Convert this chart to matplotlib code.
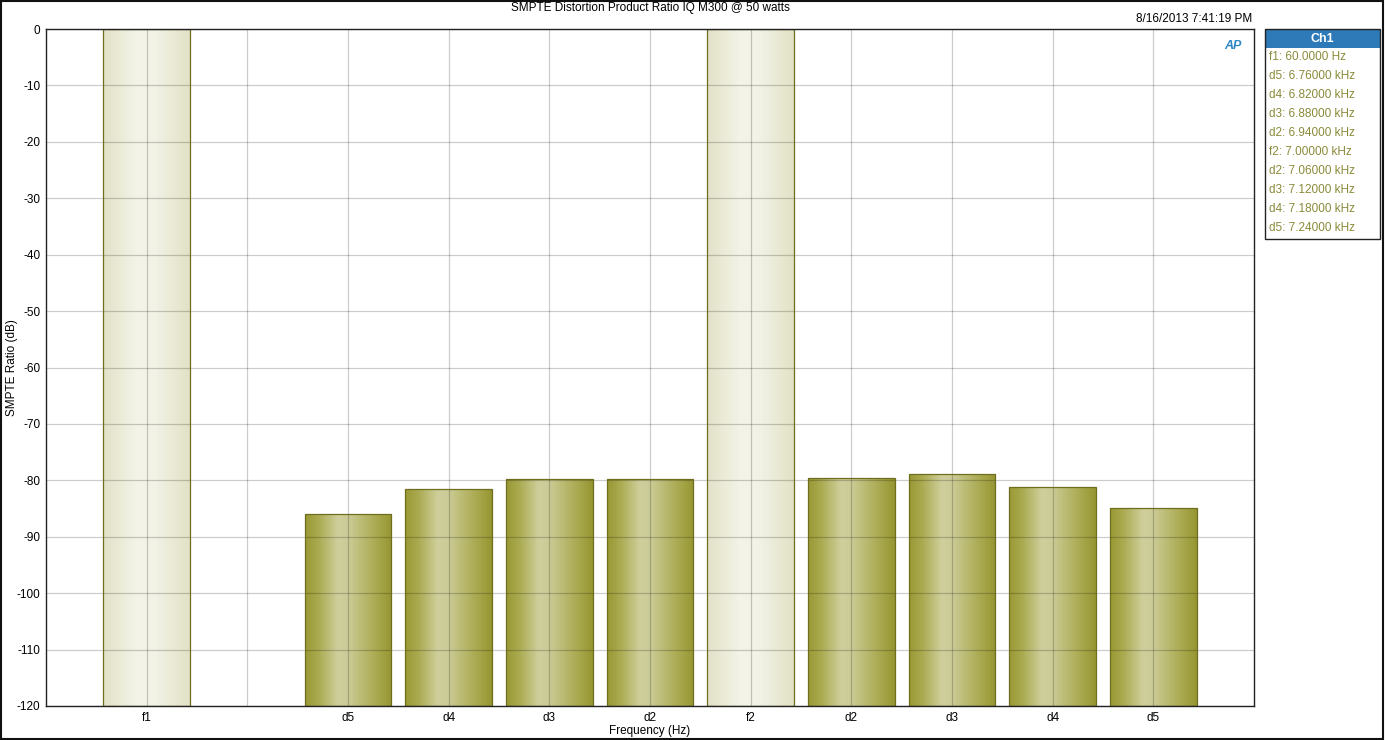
import numpy as np
import matplotlib
matplotlib.use("Agg")
import matplotlib.pyplot as plt
from matplotlib.colors import LinearSegmentedColormap
from matplotlib.patches import Rectangle

# ---- data ----
labels = ["f1", "", "d5", "d4", "d3", "d2", "f2", "d2", "d3", "d4", "d5"]
values = [0.0, None, -86.0, -81.6, -79.7, -79.8, 0.0, -79.5, -78.8, -81.2, -84.9]
is_fundamental = [True, False, False, False, False, False, True, False, False, False, False]
legend_entries = ["f1: 60.0000 Hz", "d5: 6.76000 kHz", "d4: 6.82000 kHz", "d3: 6.88000 kHz",
                  "d2: 6.94000 kHz", "f2: 7.00000 kHz", "d2: 7.06000 kHz", "d3: 7.12000 kHz",
                  "d4: 7.18000 kHz", "d5: 7.24000 kHz"]
title = "SMPTE Distortion Product Ratio IQ M300 @ 50 watts"
timestamp = "8/16/2013 7:41:19 PM"
y_min, y_max = -120, 0

plt.rcParams['font.family'] = ['Liberation Sans', 'DejaVu Sans']
FS = 8.5
fig = plt.figure(figsize=(13.85, 7.4), dpi=100)
ax = fig.add_axes([46/1385, 1-706/740, (1254-46)/1385, (706-29)/740])

dark_cmap = LinearSegmentedColormap.from_list(
    "olive", [(0.0, "#999935"), (0.15, "#aaaa50"), (0.38, "#cfcf9d"), (0.5, "#cbcb96"),
              (0.8, "#acac55"), (1.0, "#969632")])
pale_cmap = LinearSegmentedColormap.from_list(
    "pale", [(0.0, "#e2e2c8"), (0.4, "#f4f4e9"), (0.6, "#f2f2e6"), (1.0, "#e2e2c6")])
grad = np.linspace(0, 1, 256).reshape(1, -1)

width = 0.86
for i, (v, fund) in enumerate(zip(values, is_fundamental)):
    if v is None:
        continue
    bars = ax.bar(i, v - y_min, bottom=y_min, width=width, facecolor="none",
                  edgecolor="#6e6e1e", linewidth=0.9, zorder=3)
    patch = bars[0]
    cm = pale_cmap if fund else dark_cmap
    im = ax.imshow(grad, cmap=cm, aspect="auto",
                   extent=[i - width/2, i + width/2, y_min, v], zorder=2)
    im.set_clip_path(patch)

ax.set_xlim(-1, 11)
ax.set_ylim(y_min, y_max)
ax.set_xticks(range(len(labels)))
ax.set_xticklabels(labels, fontsize=FS)
ax.set_yticks(np.arange(y_min, y_max + 1, 10))
ax.set_yticklabels([str(t) for t in np.arange(y_min, y_max + 1, 10)], fontsize=FS)
ax.tick_params(axis="x", length=0, pad=4)
ax.tick_params(axis="y", length=0, pad=4)
ax.grid(True, color="black", alpha=0.2, linewidth=0.9, zorder=4)
ax.set_axisbelow(False)
for s in ax.spines.values():
    s.set_color("#222222")
    s.set_linewidth(1.0)
    s.set_zorder(5)

ax.set_xlabel("Frequency (Hz)", fontsize=FS, labelpad=1)
ax.set_ylabel("SMPTE Ratio (dB)", fontsize=FS)
ax.yaxis.set_label_coords((18 - 46) / 1208, 0.5)

fig.text(650/1385, 1-8/740, title, ha="center", va="center", fontsize=FS)
fig.text(1252/1385, 1-19/740, timestamp, ha="right", va="center", fontsize=FS)
fig.text(1233/1385, 1-46/740, "AP", ha="center", va="center", fontsize=9,
         fontweight="bold", style="italic", color="#2d86c4")

# figure border
fig.patches.append(Rectangle((0.0005, 0.001), 0.998, 0.997, transform=fig.transFigure,
                             fill=False, edgecolor="#111111", linewidth=1.5))

# legend box
lx0, lx1 = 1265/1385, 1380/1385
ly_top, ly_bot = 1-29/740, 1-239/740
hdr_bot = 1-48/740
fig.patches.append(Rectangle((lx0, hdr_bot), lx1-lx0, ly_top-hdr_bot, transform=fig.transFigure,
                             facecolor="#2e7ab8", edgecolor="none"))
fig.patches.append(Rectangle((lx0, ly_bot), lx1-lx0, ly_top-ly_bot, transform=fig.transFigure,
                             fill=False, edgecolor="#222222", linewidth=1.0))
fig.text((lx0+lx1)/2, 1-38.5/740, "Ch1", ha="center", va="center", fontsize=9,
         fontweight="bold", color="white")
for k, entry in enumerate(legend_entries):
    fig.text(1269/1385, 1-(57+19*k)/740, entry, ha="left", va="center",
             fontsize=FS, color="#8a8a3a")

fig.savefig("out.png", dpi=100)
